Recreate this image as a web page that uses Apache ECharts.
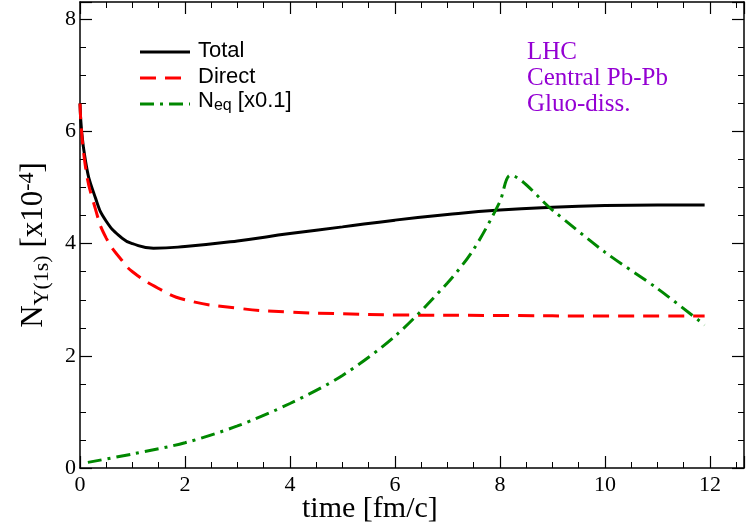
<!DOCTYPE html>
<html><head><meta charset="utf-8">
<script src="https://cdn.jsdelivr.net/npm/echarts@6/dist/echarts.min.js"></script>
<style>html,body{margin:0;padding:0;background:#fff}#c{width:747px;height:527px}</style>
</head><body><div id="c"></div>
<script>
const totalT = [0,0.1,0.3,0.5,0.8,1.0,1.4,2,3,4,5,6,7,8,9,10,11,11.9];
const totalV = [6.5,5.5,4.8,4.4,4.1,4.0,3.92,3.95,4.05,4.18,4.3,4.42,4.52,4.6,4.65,4.68,4.69,4.69];
const directT = [0,0.1,0.3,0.5,0.8,1,1.5,2,3,4,5,6,8,10,11.9];
const directV = [6.5,5.4,4.6,4.1,3.7,3.5,3.2,3.0,2.85,2.78,2.75,2.73,2.72,2.71,2.71];
const neqT = [0.15,1,2,3,4,5,6,7,7.5,8,8.2,9,10,11,11.9];
const neqV = [0.1,0.25,0.45,0.75,1.15,1.65,2.35,3.3,3.9,4.75,5.22,4.6,3.85,3.2,2.55];
const xTicks = [0,2,4,6,8,10,12];
const yTicks = [0,2,4,6,8];
const zip=(a,b)=>a.map((v,i)=>[v,b[i]]);
const serif='"Liberation Serif","DejaVu Serif",serif';
const sans='"Liberation Sans","DejaVu Sans",sans-serif';
const ax=(show)=>({axisLine:{show:true,onZero:false,lineStyle:{color:'#000',width:1.5}},
  axisTick:{inside:true,length:12,lineStyle:{color:'#000',width:1.2}},
  minorTick:{show:true,splitNumber:4,length:6,lineStyle:{color:'#000'}},
  splitLine:{show:false},
  axisLabel:{show:show,color:'#000',fontFamily:serif,fontSize:22,showMaxLabel:true}});
const chart=echarts.init(document.getElementById('c'));
chart.setOption({
  animation:false,
  grid:{left:80,right:3,top:2,bottom:59},
  xAxis:[Object.assign({type:'value',min:0,max:12.65,interval:2,position:'bottom'},ax(true),
      {axisLabel:{color:'#000',fontFamily:serif,fontSize:22,margin:6,formatter:v=>xTicks.includes(v)?String(v):''}}),
    Object.assign({type:'value',min:0,max:12.65,interval:2,position:'top'},ax(false))],
  yAxis:[Object.assign({type:'value',min:0,max:8.31,interval:2,position:'left'},ax(true),
      {axisLabel:{color:'#000',fontFamily:serif,fontSize:22,margin:4,formatter:v=>yTicks.includes(v)?String(v):''}}),
    Object.assign({type:'value',min:0,max:8.31,interval:2,position:'right'},ax(false))],
  series:[
    {type:'line',data:zip(totalT,totalV),smooth:true,showSymbol:false,lineStyle:{color:'#000',width:3}},
    {type:'line',data:zip(directT,directV),smooth:true,showSymbol:false,lineStyle:{color:'#ff0000',width:3,type:[16,9]}},
    {type:'line',data:zip(neqT,neqV),smooth:0.3,showSymbol:false,lineStyle:{color:'#008800',width:3,type:[14,6,3,6]}}
  ],
  graphic:[
    {type:'line',shape:{x1:140,y1:52,x2:190,y2:52},style:{stroke:'#000',lineWidth:3}},
    {type:'line',shape:{x1:140,y1:78,x2:190,y2:78},style:{stroke:'#ff0000',lineWidth:3,lineDash:[16,9]}},
    {type:'line',shape:{x1:140,y1:104,x2:190,y2:104},style:{stroke:'#008800',lineWidth:3,lineDash:[14,6,3,6]}},
    {type:'text',left:198,top:40,style:{text:'Total',font:'22px '+sans,fill:'#000'}},
    {type:'text',left:198,top:66,style:{text:'Direct',font:'22px '+sans,fill:'#000'}},
    {type:'text',left:198,top:90,style:{text:'N{s|eq} [x0.1]',font:'22px '+sans,fill:'#000',
      rich:{s:{fontSize:16,fontFamily:sans,verticalAlign:'bottom',padding:[10,0,0,0]}}}},
    {type:'text',left:527,top:40,style:{text:'LHC',font:'25px '+serif,fill:'#9400d3'}},
    {type:'text',left:527,top:66,style:{text:'Central Pb-Pb',font:'25px '+serif,fill:'#9400d3'}},
    {type:'text',left:527,top:92,style:{text:'Gluo-diss.',font:'25px '+serif,fill:'#9400d3'}},
    {type:'text',left:302,top:494,style:{text:'time [fm/c]',font:'30px '+serif,fill:'#000'}},
    {type:'text',x:34,y:245,rotation:Math.PI/2,style:{text:'N{s|Y(1s)} [x10{p|-4}]',font:'31px '+serif,fill:'#000',
      align:'center',verticalAlign:'middle',
      rich:{s:{fontSize:22,fontFamily:serif,padding:[16,0,0,0]},p:{fontSize:22,fontFamily:serif,padding:[0,0,14,0]}}}}
  ]
});
</script></body></html>
